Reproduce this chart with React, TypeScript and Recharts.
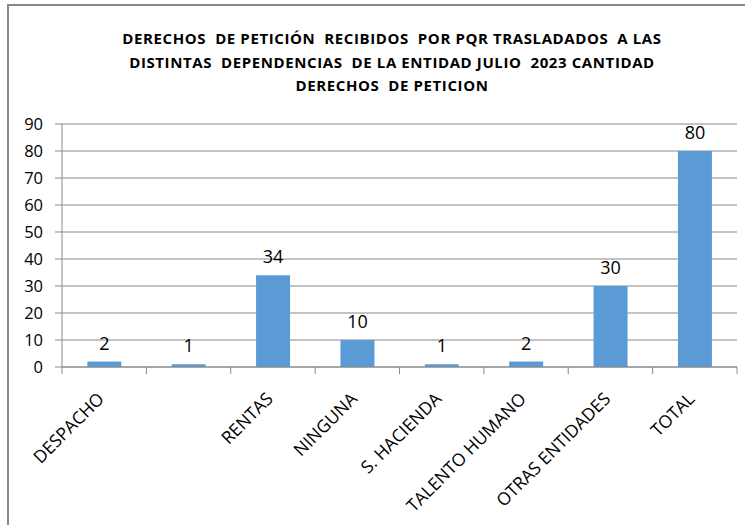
import React from 'react';
import { BarChart, Bar, XAxis, YAxis, CartesianGrid, LabelList } from 'recharts';

const categories = ['DESPACHO', '', 'RENTAS', 'NINGUNA', 'S. HACIENDA', 'TALENTO HUMANO', 'OTRAS ENTIDADES', 'TOTAL'];
const values = [2, 1, 34, 10, 1, 2, 30, 80];
const yTicks = [0, 10, 20, 30, 40, 50, 60, 70, 80, 90];
const titleLines = [
  'DERECHOS  DE PETICIÓN  RECIBIDOS  POR PQR TRASLADADOS  A LAS',
  'DISTINTAS  DEPENDENCIAS  DE LA ENTIDAD JULIO  2023 CANTIDAD',
  'DERECHOS  DE PETICION',
];

const chartData = categories.map((name, i) => ({ idx: i, name, value: values[i] }));

const FONT = '"Open Sans", "DejaVu Sans", sans-serif';
const GRAY = '#898989';

// rotated category label plus the Excel-style tick marks between categories
const CategoryTick = (props: any) => {
  const { x, y, payload, index } = props;
  const half = payload && payload.offset ? payload.offset : 42.19;
  const ax = x + 1;
  const ay = y + 33;
  const last = index === categories.length - 1;
  return (
    <g>
      <line x1={x - half} x2={x - half} y1={y} y2={y + 7} stroke={GRAY} />
      {last && <line x1={x + half} x2={x + half} y1={y} y2={y + 7} stroke={GRAY} />}
      <text
        x={ax}
        y={ay}
        transform={`rotate(-45, ${ax}, ${ay})`}
        textAnchor="end"
        fontSize={17.5}
        fontFamily={FONT}
        fill="#000"
      >
        {categories[payload.value]}
      </text>
    </g>
  );
};

export default function App() {
  return (
    <div style={{ position: 'fixed', left: 0, top: 0, width: 745, height: 525, background: '#fff', overflow: 'hidden' }}>
      <div
        style={{
          position: 'absolute',
          left: 7,
          top: 4,
          width: 760,
          height: 540,
          borderLeft: `2px solid ${GRAY}`,
          borderTop: `2px solid ${GRAY}`,
        }}
      />
      <div
        style={{
          position: 'absolute',
          left: 0,
          top: 27,
          width: 784,
          textAlign: 'center',
          fontFamily: FONT,
          fontWeight: 700,
          fontSize: 15,
          letterSpacing: 0.6,
          lineHeight: '23.5px',
          whiteSpace: 'pre',
          color: '#000',
        }}
      >
        {titleLines.map((t, i) => (
          <div key={i}>{t}</div>
        ))}
      </div>
      <div style={{ position: 'absolute', left: 0, top: 0 }}>
        <BarChart
          width={745}
          height={525}
          data={chartData}
          margin={{ top: 124, right: 8, bottom: 157, left: 0 }}
          barCategoryGap="30%"
        >
          <CartesianGrid vertical={false} stroke={GRAY} strokeWidth={1} />
          <XAxis
            dataKey="idx"
            height={1}
            tickLine={false}
            tickSize={0}
            tickMargin={0}
            axisLine={{ stroke: GRAY }}
            tick={CategoryTick}
            interval={0}
          />
          <YAxis
            domain={[0, 90]}
            ticks={yTicks}
            width={62}
            tickSize={7}
            tickMargin={12}
            axisLine={{ stroke: GRAY }}
            tickLine={{ stroke: GRAY }}
            tick={{ fontSize: 16.5, fill: '#000', fontFamily: FONT }}
          />
          <Bar dataKey="value" fill="#5B9BD5" isAnimationActive={false}>
            <LabelList dataKey="value" position="top" offset={12} fontSize={18} fill="#000" fontFamily={FONT} />
          </Bar>
        </BarChart>
      </div>
    </div>
  );
}
